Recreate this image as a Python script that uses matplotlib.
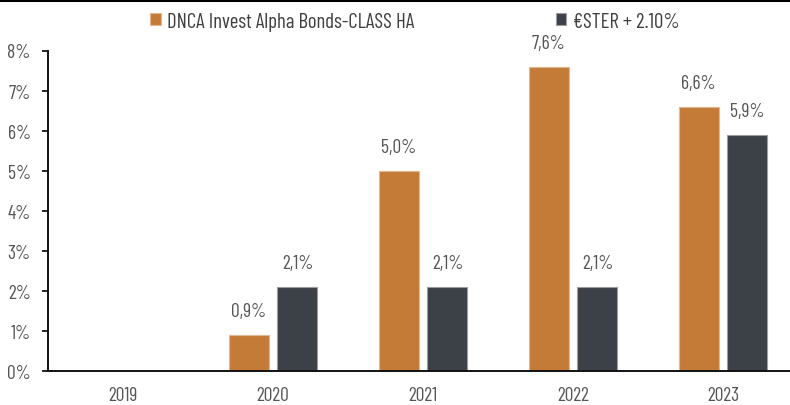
import matplotlib
matplotlib.use("Agg")
import matplotlib.pyplot as plt
import numpy as np

years = ["2019", "2020", "2021", "2022", "2023"]
fund = [np.nan, 0.9, 5.0, 7.6, 6.6]
bench = [np.nan, 2.1, 2.1, 2.1, 5.9]
fund_labels = ["", "0,9%", "5,0%", "7,6%", "6,6%"]
bench_labels = ["", "2,1%", "2,1%", "2,1%", "5,9%"]
series_names = ["DNCA Invest Alpha Bonds-CLASS HA", "€STER + 2.10%"]
yticks = [0, 1, 2, 3, 4, 5, 6, 7, 8]

plt.rcParams["font.family"] = ["Barlow Condensed", "DejaVu Sans"]

W, H = 790, 406
fig = plt.figure(figsize=(W / 100, H / 100), dpi=100)
ax = fig.add_axes([48 / W, (H - 372) / H, 750 / W, 320.5 / H])

orange = "#C57B38"
dark = "#3C4047"
x = np.arange(len(years))
bw = 0.267
off = 0.163
b1 = ax.bar(x - off, fund, bw, color=orange, edgecolor="#E3B78F", linewidth=0.8, label=series_names[0])
b2 = ax.bar(x + off, bench, bw, color=dark, edgecolor="#9A9DA2", linewidth=0.8, label=series_names[1])

tc = "#555555"
fs = 14
for xi, v, l in zip(x - off, fund, fund_labels):
    if l:
        ax.annotate(l, (xi, v), xytext=(0, 15), textcoords="offset pixels",
                    ha="center", va="bottom", fontsize=fs, color=tc)
for xi, v, l in zip(x + off, bench, bench_labels):
    if l:
        ax.annotate(l, (xi, v), xytext=(0, 15), textcoords="offset pixels",
                    ha="center", va="bottom", fontsize=fs, color=tc)

ax.set_xlim(-0.5, 4.5)
ax.set_ylim(0, 8)
ax.set_yticks(yticks)
ax.set_yticklabels([f"{t}%" for t in yticks])
ax.set_xticks(x)
ax.set_xticklabels(years)
ax.tick_params(axis="y", length=4.5, width=1.2, direction="out", labelsize=fs, labelcolor=tc, pad=8)
ax.tick_params(axis="x", length=0, labelsize=fs, labelcolor=tc, pad=11)
for s in ["top", "right"]:
    ax.spines[s].set_visible(False)
for s in ["left", "bottom"]:
    ax.spines[s].set_linewidth(1.4)
    ax.spines[s].set_color("#111111")

leg = fig.legend(handles=[b1, b2], loc="center", bbox_to_anchor=(0.525, 1 - 22 / H),
                 ncol=2, frameon=False, fontsize=15, handlelength=0.5, handleheight=0.5,
                 handletextpad=0.3, columnspacing=6.8, labelcolor="#404040")

fig.add_artist(plt.Line2D([0, 1], [1 - 2 / H, 1 - 2 / H], color="black", linewidth=1.5,
                          transform=fig.transFigure))

fig.savefig("out.png", dpi=100)
